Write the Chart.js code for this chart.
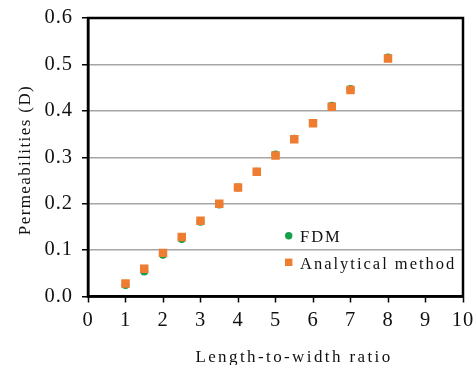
<!DOCTYPE html>
<html><head><meta charset="utf-8">
<script src="https://cdn.jsdelivr.net/npm/chart.js@4"></script>
<style>html,body{margin:0;padding:0;background:#fff}canvas{display:block}</style>
</head><body>
<canvas id="c" width="474" height="365"></canvas>
<script>
// Length-to-width ratio of the sample
const ratios = [1, 1.5, 2, 2.5, 3, 3.5, 4, 4.5, 5, 5.5, 6, 6.5, 7, 8];
// Permeability (D) from the finite-difference model
const fdm = [0.025, 0.054, 0.090, 0.124, 0.161, 0.198, 0.235, 0.269, 0.306, 0.340, 0.374, 0.411, 0.447, 0.515];
// Permeability (D) from the analytical solution
const analytical = [0.028, 0.060, 0.094, 0.128, 0.163, 0.200, 0.235, 0.269, 0.304, 0.339, 0.373, 0.409, 0.445, 0.513];

const xTickLabels = ['0', '1', '2', '3', '4', '5', '6', '7', '8', '9', '10'];
const yTickLabels = ['0.0', '0.1', '0.2', '0.3', '0.4', '0.5', '0.6'];
const seriesNames = ['FDM', 'Analytical method'];
const xTitle = 'Length-to-width ratio';
const yTitle = 'Permeabilities (D)';

const GREEN = '#14a04a';
const ORANGE = '#ee7d31';
const SERIF = "'Liberation Serif', 'Times New Roman', serif";

const toPoints = (ys) => ratios.map((x, i) => ({ x, y: ys[i] }));

// Frame, axis titles and the in-plot legend
const decorations = {
  id: 'decorations',
  beforeDraw(chart) {
    chart.ctx.letterSpacing = '1px';
  },
  afterDraw(chart) {
    const { ctx, chartArea: a } = chart;
    ctx.save();
    ctx.strokeStyle = '#000';
    ctx.lineWidth = 2.5;
    ctx.strokeRect(a.left, a.top, a.right - a.left, a.bottom - a.top);

    ctx.fillStyle = '#111';
    ctx.letterSpacing = '2.4px';
    ctx.font = '17px ' + SERIF;
    ctx.textAlign = 'center';
    ctx.textBaseline = 'alphabetic';
    ctx.fillText(xTitle, 294, 362);

    ctx.save();
    ctx.translate(30, 160);
    ctx.rotate(-Math.PI / 2);
    ctx.letterSpacing = '1.4px';
    ctx.fillText(yTitle, 0, 0);
    ctx.restore();

    // legend
    ctx.textAlign = 'left';
    ctx.letterSpacing = '2px';
    ctx.font = '16.5px ' + SERIF;
    ctx.fillStyle = GREEN;
    ctx.beginPath();
    ctx.arc(288.7, 235.7, 3.7, 0, Math.PI * 2);
    ctx.fill();
    ctx.fillStyle = ORANGE;
    ctx.fillRect(285, 258.6, 7.4, 7.4);
    ctx.fillStyle = '#111';
    ctx.fillText(seriesNames[0], 300, 241.7);
    ctx.fillText(seriesNames[1], 300, 269);
    ctx.restore();
  }
};

new Chart(document.getElementById('c'), {
  type: 'scatter',
  data: {
    datasets: [
      {
        label: seriesNames[0],
        data: toPoints(fdm),
        pointStyle: 'circle',
        pointRadius: 4,
        backgroundColor: GREEN,
        borderWidth: 0,
        order: 2
      },
      {
        label: seriesNames[1],
        data: toPoints(analytical),
        pointStyle: 'rect',
        pointRadius: 6,
        backgroundColor: ORANGE,
        borderWidth: 0,
        order: 1
      }
    ]
  },
  options: {
    responsive: false,
    devicePixelRatio: 1,
    animation: false,
    layout: { padding: { top: 18, right: 11, left: 0, bottom: 0 } },
    plugins: { legend: { display: false }, tooltip: { enabled: false } },
    scales: {
      x: {
        type: 'linear',
        min: 0, max: 10,
        afterFit(s) { s.height = 68.5; s.paddingLeft = 0; s.paddingRight = 0; },
        ticks: {
          stepSize: 1,
          color: '#111',
          font: { family: SERIF, size: 20.5 },
          padding: 6,
          maxRotation: 0,
          callback: (v) => xTickLabels[v]
        },
        grid: { drawOnChartArea: false, tickLength: 6, tickColor: '#000', tickWidth: 1.5 },
        border: { color: '#000', width: 2.5 }
      },
      y: {
        type: 'linear',
        min: 0, max: 0.6,
        afterFit(s) { s.width = 88; s.paddingTop = 0; s.paddingBottom = 0; },
        ticks: {
          stepSize: 0.1,
          color: '#111',
          font: { family: SERIF, size: 20.5 },
          padding: 9,
          callback: (v) => yTickLabels[Math.round(v * 10)]
        },
        grid: { color: '#a6a6a6', lineWidth: 1.5, tickLength: 6, tickColor: '#000', tickWidth: 1.5 },
        border: { color: '#000', width: 2.5 }
      }
    }
  },
  plugins: [decorations]
});
</script>
</body></html>
